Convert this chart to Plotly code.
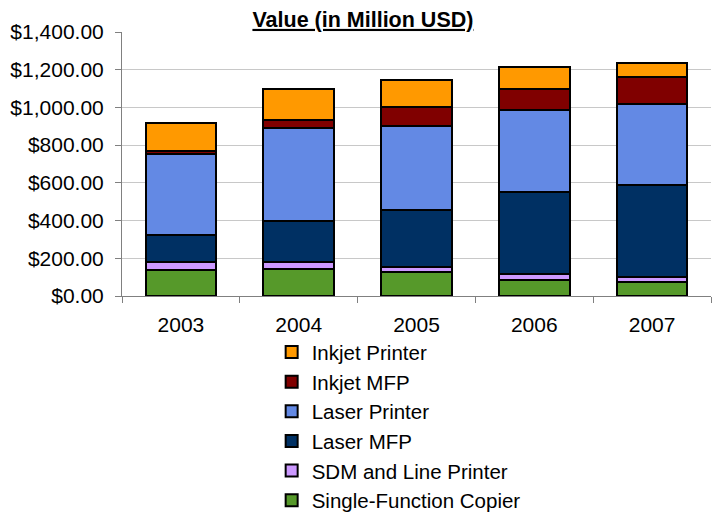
import plotly.graph_objects as go

years = ["2003", "2004", "2005", "2006", "2007"]

single_function_copier = [139, 145, 127, 86, 74]
sdm_line_printer = [39, 35, 26, 29, 25]
laser_mfp = [147, 217, 301, 436, 489]
laser_printer = [430, 494, 446, 437, 428]
inkjet_mfp = [12, 40, 100, 110, 144]
inkjet_printer = [149, 169, 144, 116, 78]

series = [
    ("Single-Function Copier", single_function_copier, "#56992A"),
    ("SDM and Line Printer", sdm_line_printer, "#CC99FF"),
    ("Laser MFP", laser_mfp, "#003063"),
    ("Laser Printer", laser_printer, "#6389E4"),
    ("Inkjet MFP", inkjet_mfp, "#800000"),
    ("Inkjet Printer", inkjet_printer, "#FF9900"),
]

fig = go.Figure()
for name, vals, col in series:
    fig.add_trace(go.Bar(
        x=years, y=vals, name=name,
        marker=dict(color=col, line=dict(color="#000000", width=2)),
    ))

font_family = "Liberation Sans, Arial, sans-serif"

fig.update_layout(
    width=713, height=515,
    barmode="stack",
    bargap=0.4,
    plot_bgcolor="white",
    paper_bgcolor="white",
    margin=dict(l=122, r=2, t=32, b=219, autoexpand=False),
    font=dict(family=font_family, color="black", size=21),
    title=dict(
        text="<b><u>Value (in Million USD)</u></b>",
        font=dict(family=font_family, size=21.5, color="black"),
        x=0.509, xanchor="center", xref="container",
        y=0.977, yanchor="top", yref="container",
    ),
    showlegend=True,
    legend=dict(
        traceorder="reversed",
        x=0.381, xanchor="left", xref="container",
        y=0.355, yanchor="top", yref="container",
        font=dict(family=font_family, size=20.5, color="black"),
        bgcolor="rgba(0,0,0,0)",
        itemclick=False,
    ),
    xaxis=dict(
        showline=True, linecolor="#808080", linewidth=1,
        ticks="outside", ticklen=6, tickcolor="#808080",
        tickson="boundaries",
        tickfont=dict(size=21),
        ticklabelstandoff=10,
        showgrid=False,
    ),
    yaxis=dict(
        range=[0, 1400], dtick=200,
        tickprefix="$", tickformat=",.2f",
        showline=True, linecolor="#808080", linewidth=1,
        ticks="outside", ticklen=6, tickcolor="#808080",
        showgrid=True, gridcolor="#C8C8C8", gridwidth=1,
        tickfont=dict(size=21),
        ticklabelstandoff=7,
        zeroline=False,
    ),
)

fig.write_html("out.html")
